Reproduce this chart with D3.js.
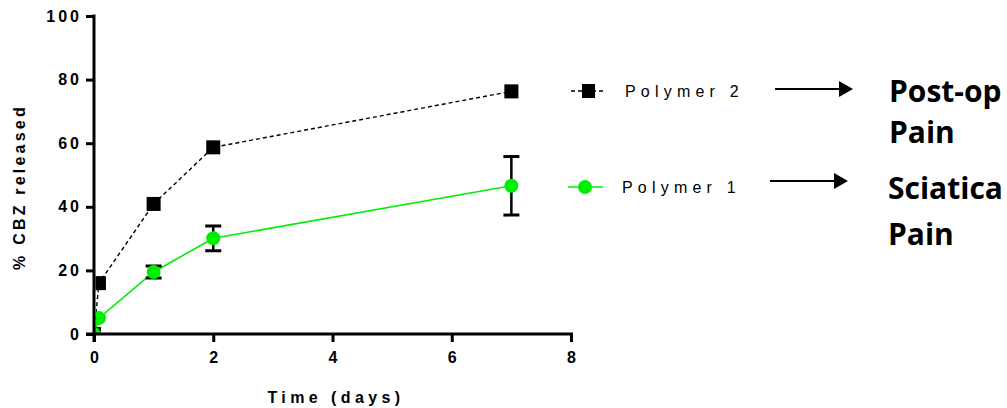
<!DOCTYPE html>
<html><head><meta charset="utf-8">
<script src="https://cdn.jsdelivr.net/npm/d3@7"></script>
<style>body{margin:0;background:#fff}svg{display:block}</style>
</head><body>
<svg id="c" width="1007" height="408"></svg>
<script>
const times = [0, 0.083, 1, 2, 7];
const polymer2 = [0, 16, 40.9, 58.7, 76.3];
const polymer1 = [0, 5, 19.5, 30.1, 46.6];
const polymer1Err = [0, 0.8, 1.9, 3.9, 9.2];
const xTicks = [0, 2, 4, 6, 8];
const yTicks = [0, 20, 40, 60, 80, 100];
const seriesNames = ["Polymer 2", "Polymer 1"];
const outcomes = [["Post-op", "Pain"], ["Sciatica", "Pain"]];

const svg = d3.select("#c");
const x = d3.scaleLinear().domain([0, 8]).range([94, 571]);
const y = d3.scaleLinear().domain([0, 100]).range([334, 16]);
const font = "Arial, 'Liberation Sans', sans-serif";

svg.append("defs").append("clipPath").attr("id", "plot")
  .append("rect").attr("x", 95.5).attr("y", 0).attr("width", 600).attr("height", 332.5);

// data lines
const line = d3.line().x((d, i) => x(times[i])).y(d => y(d));
const g = svg.append("g").attr("clip-path", "url(#plot)");
g.append("path").datum(polymer1).attr("d", line).attr("fill", "none")
  .attr("stroke", "#00ee00").attr("stroke-width", 1.6);
g.append("path").datum(polymer2).attr("d", line).attr("fill", "none")
  .attr("stroke", "#000").attr("stroke-width", 1.4).attr("stroke-dasharray", "4,3");

// error bars
polymer1.forEach((v, i) => {
  const e = polymer1Err[i];
  if (e < 1.5) return;
  const cx = x(times[i]);
  g.append("line").attr("x1", cx).attr("x2", cx).attr("y1", y(v + e)).attr("y2", y(v - e))
    .attr("stroke", "#000").attr("stroke-width", 2.5);
  [v + e, v - e].forEach(b => g.append("line").attr("x1", cx - 8).attr("x2", cx + 8)
    .attr("y1", y(b)).attr("y2", y(b)).attr("stroke", "#000").attr("stroke-width", 3));
});

// markers
polymer2.forEach((v, i) => g.append("rect").attr("x", x(times[i]) - 7).attr("y", y(v) - 7)
  .attr("width", 14).attr("height", 14).attr("fill", "#000"));
polymer1.forEach((v, i) => g.append("circle").attr("cx", x(times[i])).attr("cy", y(v))
  .attr("r", 7).attr("fill", "#00ee00"));

// axes
const ax = svg.append("g").attr("transform", "translate(0,334)")
  .call(d3.axisBottom(x).tickValues(xTicks).tickSize(8).tickPadding(10).tickFormat(d3.format("d")));
const ay = svg.append("g").attr("transform", "translate(94,0)")
  .call(d3.axisLeft(y).tickValues(yTicks).tickSize(8).tickPadding(4).tickFormat(d3.format("d")));
[ax, ay].forEach(a => {
  a.select(".domain").remove();
  a.selectAll(".tick line").attr("stroke", "#000").attr("stroke-width", 3);
  a.selectAll(".tick text").attr("font-family", font).attr("font-size", 16)
    .attr("font-weight", "bold").attr("fill", "#000").attr("letter-spacing", "3px");
});
ax.selectAll(".tick text").attr("dx", "1.5px");
svg.append("line").attr("x1", 86).attr("x2", 573).attr("y1", 334).attr("y2", 334)
  .attr("stroke", "#000").attr("stroke-width", 3);
svg.append("line").attr("x1", 94).attr("x2", 94).attr("y1", 14.5).attr("y2", 342)
  .attr("stroke", "#000").attr("stroke-width", 3);

// axis titles
svg.append("text").attr("x", 336).attr("y", 403).attr("text-anchor", "middle")
  .attr("font-family", font).attr("font-size", 16).attr("font-weight", "bold")
  .attr("letter-spacing", "4.4px").text("Time (days)");
svg.append("text").attr("transform", "translate(25,187) rotate(-90)").attr("text-anchor", "middle")
  .attr("font-family", font).attr("font-size", 16).attr("font-weight", "bold")
  .attr("letter-spacing", "3.2px").text("% CBZ released");

// legend
const legY = [91, 187];
svg.append("line").attr("x1", 571).attr("x2", 606).attr("y1", legY[0]).attr("y2", legY[0])
  .attr("stroke", "#000").attr("stroke-width", 1.4).attr("stroke-dasharray", "4,3");
svg.append("rect").attr("x", 582).attr("y", legY[0] - 7).attr("width", 13).attr("height", 14).attr("fill", "#000");
svg.append("line").attr("x1", 568).attr("x2", 603).attr("y1", legY[1]).attr("y2", legY[1])
  .attr("stroke", "#00ee00").attr("stroke-width", 1.6);
svg.append("circle").attr("cx", 585).attr("cy", legY[1]).attr("r", 7).attr("fill", "#00ee00");
const legX = [625, 622];
seriesNames.forEach((n, i) => svg.append("text").attr("x", legX[i]).attr("y", legY[i] + 6)
  .attr("font-family", font).attr("font-size", 16).attr("letter-spacing", "5.2px")
  .attr("fill", "#000").text(n));

// arrows
const arrows = [[775, 853, 89], [770, 848, 181]];
arrows.forEach(([x1, x2, yy]) => {
  svg.append("line").attr("x1", x1).attr("x2", x2 - 12).attr("y1", yy).attr("y2", yy)
    .attr("stroke", "#000").attr("stroke-width", 2.2);
  svg.append("path").attr("d", `M${x2 - 14},${yy - 8}L${x2},${yy}L${x2 - 14},${yy + 8}Z`).attr("fill", "#000");
});

// outcome labels
const outX = [889, 888];
const outY = [[102, 143], [199, 245]];
outcomes.forEach((lines, i) => lines.forEach((t, j) => svg.append("text")
  .attr("x", outX[i]).attr("y", outY[i][j]).attr("font-family", "'Open Sans', sans-serif")
  .attr("font-size", 30).attr("font-weight", "bold").attr("letter-spacing", "0px")
  .attr("fill", "#000").text(t)));
</script>
</body></html>
